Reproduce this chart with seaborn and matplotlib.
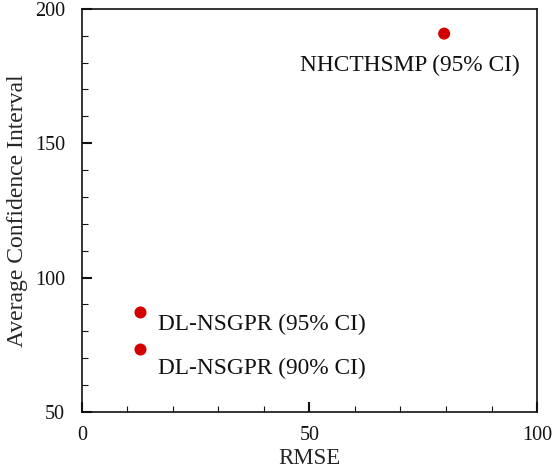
import matplotlib
matplotlib.use("Agg")
import matplotlib.pyplot as plt
import seaborn as sns
import pandas as pd
from matplotlib.ticker import MultipleLocator

methods = ["DL-NSGPR (95% CI)", "DL-NSGPR (90% CI)", "NHCTHSMP (95% CI)"]
rmse = [12.9, 12.9, 79.6]
avg_ci = [87.0, 73.2, 190.8]

df = pd.DataFrame({"RMSE": rmse, "Average Confidence Interval": avg_ci, "method": methods})

sns.set_theme(style="ticks")
plt.rcParams["font.family"] = ["Liberation Serif", "DejaVu Serif"]

fig = plt.figure(figsize=(5.6, 4.68), dpi=100)
ax = fig.add_axes([0.146, 0.12, 0.813, 0.861])

sns.scatterplot(data=df, x="RMSE", y="Average Confidence Interval", ax=ax,
                color="#d40000", s=75, edgecolor="none", legend=False)

offsets = [(3.8, -4.5), (3.8, -7.0), (-31.7, -12.0)]
for m, x, y, (dx, dy) in zip(methods, rmse, avg_ci, offsets):
    ax.text(x + dx, y + dy, m, fontsize=16.8, va="center", ha="left", color="#111111")

ax.set_xlim(0, 100)
ax.set_ylim(50, 200)
ax.xaxis.set_major_locator(MultipleLocator(50))
ax.xaxis.set_minor_locator(MultipleLocator(10))
ax.yaxis.set_major_locator(MultipleLocator(50))
ax.yaxis.set_minor_locator(MultipleLocator(10))
ax.tick_params(which="both", direction="in", top=False, right=False, labelsize=14.5, colors="#111111")
ax.tick_params(which="major", length=7, width=1.5)
ax.tick_params(axis="x", which="major", pad=10)
ax.tick_params(axis="y", which="major", pad=12)
ax.tick_params(which="minor", length=4, width=0.8)
for s in ax.spines.values():
    s.set_linewidth(1.2)
    s.set_color("#111111")
ax.set_xlabel("RMSE", fontsize=16.5, labelpad=2)
ax.set_ylabel("Average Confidence Interval", fontsize=17, labelpad=5)

fig.savefig("out.png", dpi=100)
